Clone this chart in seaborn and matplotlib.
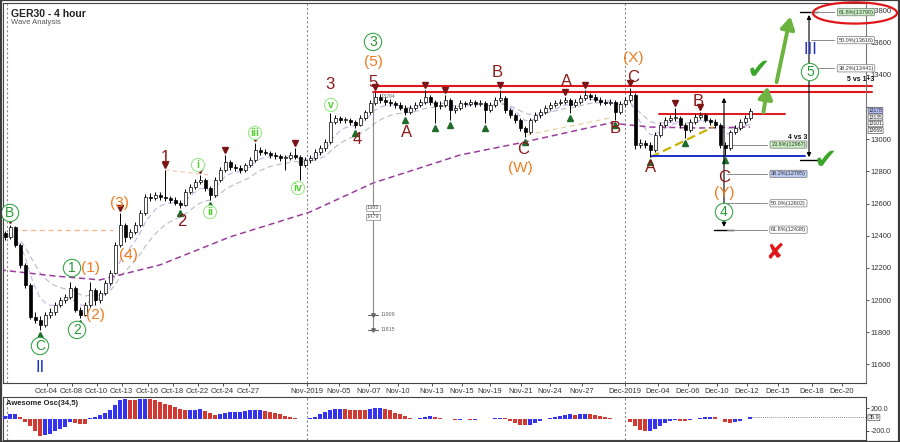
import numpy as np
import pandas as pd
import matplotlib
matplotlib.use("Agg")
import matplotlib.pyplot as plt
import matplotlib.transforms as mtransforms
from matplotlib.patches import Ellipse, Rectangle
import seaborn as sns

# ---------------- data ----------------
first_open = 12420
closes = [12393, 12455, 12343, 12219, 12095, 11896, 11877, 11846, 11908, 11927,
          11970, 12001, 12020, 12076, 11939, 11908, 11970, 12064, 12001, 12045,
          12107, 12169, 12343, 12467, 12393, 12424, 12467, 12542, 12641, 12635,
          12654, 12641, 12635, 12623, 12604, 12592, 12672, 12704, 12735, 12747,
          12697, 12654, 12747, 12809, 12859, 12828, 12822, 12809, 12840, 12871,
          12934, 12921, 12915, 12902, 12896, 12884, 12884, 12902, 12890, 12840,
          12871, 12884, 12921, 12946, 12983, 13108, 13132, 13120, 13120, 13108,
          13089, 13132, 13170, 13226, 13263, 13244, 13232, 13226, 13213, 13195,
          13170, 13195, 13213, 13232, 13263, 13232, 13207, 13213, 13244, 13182,
          13195, 13226, 13219, 13232, 13219, 13226, 13182, 13213, 13244, 13257,
          13182, 13151, 13120, 13070, 13045, 13120, 13151, 13170, 13195, 13213,
          13226, 13232, 13244, 13213, 13232, 13257, 13275, 13263, 13244, 13232,
          13226, 13232, 13170, 13219, 13244, 13275, 12965, 12977, 12965, 12934,
          13027, 13089, 13120, 13132, 13132, 13089, 13058, 13108, 13139, 13151,
          13120, 13108, 13089, 12965, 12946, 13045, 13070, 13108, 13132, 13178]
highs = [12430, 12467, 12460, 12355, 12230, 12105, 11925, 11900, 11925, 11950,
         11990, 12020, 12040, 12113, 12090, 11960, 11990, 12113, 12075, 12060,
         12125, 12185, 12360, 12542, 12480, 12445, 12485, 12560, 12660, 12665,
         12675, 12670, 12809, 12650, 12640, 12625, 12690, 12720, 12755, 12778,
         12760, 12710, 12765, 12830, 12902, 12870, 12845, 12840, 12855, 12890,
         12977, 12950, 12940, 12930, 12920, 12910, 12905, 12920, 12946, 12900,
         12890, 12900, 12940, 12965, 13000, 13163, 13150, 13145, 13140, 13135,
         13120, 13150, 13185, 13245, 13294, 13280, 13260, 13250, 13240, 13230,
         13210, 13210, 13230, 13250, 13306, 13275, 13245, 13235, 13275, 13255,
         13215, 13245, 13240, 13250, 13245, 13245, 13240, 13230, 13260, 13306,
         13270, 13195, 13165, 13135, 13085, 13135, 13170, 13190, 13210, 13230,
         13245, 13250, 13263, 13255, 13250, 13275, 13306, 13290, 13280, 13260,
         13250, 13250, 13245, 13235, 13260, 13319, 13285, 13000, 12995, 12985,
         13045, 13105, 13140, 13150, 13195, 13145, 13100, 13125, 13155, 13170,
         13165, 13135, 13125, 13100, 12980, 13060, 13090, 13125, 13150, 13195]
lows = [12375, 12380, 12330, 12200, 12075, 11880, 11855, 11815, 11830, 11890,
        11910, 11955, 11985, 12005, 11925, 11890, 11900, 11960, 11970, 11985,
        12030, 12095, 12160, 12330, 12362, 12380, 12410, 12455, 12530, 12615,
        12620, 12625, 12615, 12605, 12590, 12573, 12585, 12660, 12690, 12720,
        12680, 12623, 12640, 12735, 12795, 12810, 12800, 12790, 12795, 12825,
        12860, 12905, 12900, 12885, 12880, 12865, 12809, 12870, 12875, 12747,
        12825, 12855, 12870, 12905, 12930, 12970, 13095, 13100, 13100, 13090,
        13070, 13080, 13120, 13160, 13210, 13225, 13215, 13205, 13195, 13180,
        13151, 13160, 13180, 13200, 13220, 13215, 13101, 13190, 13200, 13120,
        13165, 13180, 13200, 13205, 13200, 13205, 13101, 13170, 13200, 13230,
        13165, 13130, 13100, 13050, 13014, 13030, 13105, 13135, 13155, 13180,
        13200, 13210, 13220, 13163, 13200, 13220, 13245, 13245, 13230, 13215,
        13210, 13210, 13120, 13160, 13205, 13230, 12940, 12945, 12945, 12890,
        12920, 13015, 13075, 13105, 13115, 13070, 13008, 13045, 13095, 13125,
        13105, 13090, 13070, 12945, 12902, 12935, 13030, 13055, 13095, 13120]

ao_values = [60, 90, 100, 40, -40, -120, -200, -290, -280, -250,
             -210, -170, -130, -50, -60, -75, -85, 20, 50, 80,
             110, 160, 250, 350, 365, 350, 340, 360, 370, 360,
             340, 310, 280, 250, 220, 190, 160, 170, 175, 180,
             150, 110, 80, 90, 110, 130, 135, 140, 150, 160,
             165, 170, 150, 130, 110, 90, 70, 50, 30, 10,
             0, 20, 50, 90, 130, 160, 185, 190, 180, 175,
             170, 165, 160, 185, 200, 210, 190, 160, 120, 90,
             60, 30, 10, 30, 50, 60, 40, 20, 10, 0,
             -10, -5, 0, -10, -5, 5, 0, 10, 25, 30,
             20, -30, -60, -90, -100, -90, -60, -30, 0, 30,
             50, 70, 80, 90, 85, 95, 100, 95, 75, 55,
             40, 25, 15, 5, 0, -40, -110, -180, -210, -200,
             -170, -120, -70, -30, -10, -20, -30, -15, 0, 20,
             40, 50, 40, 0, -40, -70, -50, -20, 10, 36]

ma_long_bar = [-1, 10, 19, 31, 45, 61, 73.6, 91, 103, 121, 129, 139, 149]
ma_long_val = [12188, 12150, 12126, 12219, 12393, 12548, 12728, 12902, 12977,
               13101, 13076, 13070, 13076]

date_pos = [8.3, 13.3, 18.3, 23.3, 28.5, 33.5, 38.5, 43.5, 48.7, 60.3, 66.7, 72.7,
            78.5, 85.3, 91.3, 97, 103.1, 109, 115.3, 124, 130.5, 136.5, 142.3,
            148.3, 154.5, 161.3, 167.3]
date_labels = ["Oct-04", "Oct-08", "Oct-10", "Oct-13", "Oct-16", "Oct-18", "Oct-22",
               "Oct-24", "Oct-27", "Nov-2019", "Nov-05", "Nov-07", "Nov-10", "Nov-13",
               "Nov-15", "Nov-19", "Nov-21", "Nov-24", "Nov-27", "Dec-2019", "Dec-04",
               "Dec-06", "Dec-10", "Dec-12", "Dec-15", "Dec-18", "Dec-20"]
price_ticks = [11600, 11800, 12000, 12200, 12400, 12600, 12800, 13000, 13200,
               13400, 13600, 13800]
price_tick_labels = ["11600", "11800", "12000", "12200", "12400", "12600", "12800",
                     "13000", "", "13400", "13600", "13800"]
separators = [0.4, 60.3, 124]

peak_bars = [1, 23, 32, 39, 44, 50, 58, 65, 74, 84, 88, 99, 112, 116, 125, 134, 139]
low_bars = [7, 15, 35, 41, 59, 70, 80, 86, 89, 96, 104, 113, 122, 129, 136, 144]

# wave labels: (bar, price, text)
green_circled = [(1, 12542, "B"), (7, 11715, "C"), (13.4, 12200, "1"), (14.4, 11815, "2"),
                 (73.6, 13605, "3"), (143.8, 12548, "4"), (161, 13418, "5")]
roman_circled = [(38.6, 12840, "i"), (41, 12548, "ii"), (50, 13039, "iii"),
                 (58.6, 12697, "iv"), (65.2, 13213, "v")]
maroon_labels = [(32, 12884, "1"), (35.4, 12486, "2"), (65, 13338, "3"), (70.4, 12996, "4"),
                 (73.6, 13350, "5"), (80.4, 13045, "A"), (98.4, 13412, "B"),
                 (103.6, 12934, "C"), (112.4, 13362, "A"), (122, 13070, "B"),
                 (125.6, 13387, "C"), (129.2, 12822, "A"), (138.6, 13232, "B"),
                 (143.8, 12760, "C")]
orange_labels = [(17, 12200, "(1)"), (18, 11908, "(2)"), (22.8, 12604, "(3)"),
                 (24.6, 12281, "(4)"), (73.6, 13480, "(5)"), (103, 12822, "(W)"),
                 (125.6, 13505, "(X)"), (143.8, 12666, "(Y)")]
blue_labels = [(7, 11579, "II"), (161, 13555, "III")]

resistance_levels = [13331, 13294]
mini_resistance = 13160
support_level = 12896
fib_left = [(12967, "23.6%(12967)", "#c9efc0"), (12785, "38.2%(12785)", "#bccaf2"),
            (12602, "50.0%(12602)", "white"), (12438, "61.8%(12438)", "white")]
fib_right = [(13790, "61.8%(13790)", "#c9efc0"), (13616, "50.0%(13616)", "white"),
             (13441, "38.2%(13441)", "white")]
axis_tags = [(13180, "13178", "#b8bfff"), (13138, "13135", "white"),
             (13096, "13101", "white"), (13054, "13069", "white")]

# ---------------- style ----------------
sns.set_theme(style="white")
plt.rcParams["font.family"] = ["Liberation Sans", "DejaVu Sans"]

fig = plt.figure(figsize=(9.0, 4.42), dpi=100)
fig.patch.set_facecolor("white")
ax = fig.add_axes([3 / 900, 1 - 383 / 442, 863 / 900, 380 / 442])
axo = fig.add_axes([3 / 900, 2 / 442, 863 / 900, 43 / 442])

n = len(closes)
x = np.arange(n)
opens = np.array([first_open] + closes[:-1], dtype=float)
c = np.array(closes, dtype=float)
hi = np.maximum(np.array(highs, dtype=float), np.maximum(opens, c))
lo = np.minimum(np.array(lows, dtype=float), np.minimum(opens, c))

XMIN, XMAX = -0.4, 172.2
YMIN, YMAX = 11485, 13847

# moving averages
df = pd.DataFrame({"bar": x, "close": c})
df["ema_fast"] = df["close"].ewm(span=6, adjust=False).mean()
df["ema_slow"] = df["close"].ewm(span=14, adjust=False).mean()
sns.lineplot(data=df, x="bar", y="ema_fast", ax=ax, color="#c9b3e4", lw=0.8,
             linestyle=(0, (5, 3)), zorder=1)
sns.lineplot(data=df, x="bar", y="ema_slow", ax=ax, color="#b9bccb", lw=0.8,
             linestyle=(0, (5, 3)), zorder=1)
ma_df = pd.DataFrame({"bar": ma_long_bar, "ma": ma_long_val})
sns.lineplot(data=ma_df, x="bar", y="ma", ax=ax, color="#9a3d9c", lw=1.1,
             linestyle=(0, (4, 2.5)), zorder=1)

# period separators
for s in separators:
    for a in (ax, axo):
        a.axvline(s, color="#8a8a8a", lw=0.8, linestyle=(0, (2, 2)), zorder=0)

# helper dashed lines
ax.plot([1.6, 21.6], [12436, 12436], color="#f2b48a", lw=0.9, linestyle=(0, (4, 3)), zorder=1)
ax.plot([32, 41], [12809, 12778], color="#f5c2b0", lw=0.8, linestyle=(0, (4, 3)), zorder=1)
ax.plot([104.4, 121], [13027, 13132], color="#e9d3a3", lw=0.9, linestyle=(0, (4, 3)), zorder=1)
ax.plot([129.2, 141.6], [12890, 13076], color="#c9b400", lw=1.6, linestyle=(0, (4, 2)), zorder=2)

# candles
ax.vlines(x, lo, hi, color="black", lw=0.7, zorder=3)
up = c >= opens
body_h = np.maximum(np.abs(c - opens), 5)
body_b = np.minimum(c, opens)
ax.bar(x[up], body_h[up], bottom=body_b[up], width=0.6, color="white",
       edgecolor="black", linewidth=0.5, zorder=4)
ax.bar(x[~up], body_h[~up], bottom=body_b[~up], width=0.6, color="black",
       edgecolor="black", linewidth=0.5, zorder=4)

# pivot markers
up_off = mtransforms.offset_copy(ax.transData, fig=fig, y=3.5, units="points")
dn_off = mtransforms.offset_copy(ax.transData, fig=fig, y=-3.5, units="points")
ax.plot(peak_bars, hi[peak_bars], linestyle="none", marker="v", ms=4,
        color="#7a1414", transform=up_off, zorder=5)
ax.plot(low_bars, lo[low_bars], linestyle="none", marker="^", ms=4,
        color="#1f6b2a", transform=dn_off, zorder=5)

# resistance / support lines
for lvl in resistance_levels:
    ax.plot([73.6, XMAX + 1.2], [lvl, lvl], color="#e0161a", lw=1.5, zorder=2, clip_on=False)
ax.plot([130.8, 156], [mini_resistance, mini_resistance], color="#e0161a", lw=1.4, zorder=2)
ax.plot([129.2, 160], [support_level, support_level], color="#1b2fc9", lw=1.4, zorder=2)

# measuring line from wave 5 peak
ax.plot([73.6, 73.6], [13294, 11815], color="#8c8c8c", lw=0.8, zorder=2)
ax.text(75.2, 13257, "13294", fontsize=3.8, color="#666666", zorder=6)
for p, t in [(12573, "1385"), (12517, "1479")]:
    ax.text(73.6, p, t, fontsize=4, ha="center", va="center", color="#555555",
            bbox=dict(boxstyle="square,pad=0.15", fc="white", ec="#888888", lw=0.5), zorder=6)
for p, t in [(11909, "11909"), (11815, "11815")]:
    ax.plot([72.6, 74.6], [p, p], color="#666666", lw=0.8)
    ax.plot([73.6], [p], marker="v", ms=2.5, color="#666666")
    ax.text(75.2, p, t, fontsize=3.8, color="#666666", va="center")

# vertical measures with fib targets
ax.annotate("", xy=(143.8, 13275), xytext=(143.8, 12438),
            arrowprops=dict(arrowstyle="<|-|>", color="black", lw=0.8, mutation_scale=6), zorder=6)
ax.plot([141.8, 145.8], [12438, 12438], color="black", lw=1.0)
for p, t, fc in fib_left:
    ax.plot([144.3, 152.3], [p, p], color="#8a8a8a", lw=0.7, zorder=2)
    ax.text(156.7, p, t, fontsize=4, ha="center", va="center", color="#333333",
            bbox=dict(boxstyle="round,pad=0.2", fc=fc, ec="#777777", lw=0.5), zorder=6)
ax.text(158.5, 13014, "4 vs 3", fontsize=5, fontweight="bold", ha="center", va="center",
        color="#111111")

ax.annotate("", xy=(160.8, 13790), xytext=(160.8, 12871),
            arrowprops=dict(arrowstyle="<|-|>", color="black", lw=0.8, mutation_scale=6), zorder=6)
ax.plot([159.0, 162.6], [13790, 13790], color="black", lw=1.0)
ax.plot([159.0, 162.6], [12871, 12871], color="black", lw=1.0)
for p, t, fc in fib_right:
    ax.plot([161.2, 165.8], [p, p], color="#8a8a8a", lw=0.7, zorder=2)
    ax.text(170.2, p, t, fontsize=4, ha="center", va="center", color="#333333",
            bbox=dict(boxstyle="round,pad=0.2", fc=fc, ec="#777777", lw=0.5),
            zorder=6, clip_on=False)
ax.text(171.2, 13369, "5 vs 1+3", fontsize=5, fontweight="bold", ha="center", va="center",
        color="#111111", clip_on=False)
ax.add_patch(Ellipse((170.0, 13785), width=16.8, height=132, fill=False, ec="#e0161a",
                     lw=1.6, zorder=7, clip_on=False))

# green arrows, check marks, cross
for (x0, y0, x1, y1) in [(151.6, 13151, 152.6, 13345), (154.2, 13338, 157.2, 13780)]:
    ax.annotate("", xy=(x1, y1), xytext=(x0, y0),
                arrowprops=dict(arrowstyle="-|>,head_width=0.35,head_length=0.6",
                                color="#6cb33f", lw=2.8, mutation_scale=12), zorder=7)
ax.text(150.6, 13431, "\u2714", fontsize=20, color="#3aa62a", ha="center", va="center",
        family=["DejaVu Sans"], zorder=7)
ax.text(164.0, 12871, "\u2714", fontsize=20, color="#3aa62a", ha="center", va="center",
        family=["DejaVu Sans"], zorder=7)
ax.text(154.0, 12294, "\u2718", fontsize=16, color="#e0161a", ha="center", va="center",
        family=["DejaVu Sans"], zorder=7)

# wave labels
for bx, p, t in green_circled:
    ax.text(bx, p, t, fontsize=10, color="#2a9a34", ha="center", va="center", zorder=8,
            bbox=dict(boxstyle="circle,pad=0.12", fc="white", ec="#3aa64a", lw=0.8))
for bx, p, t in roman_circled:
    ax.text(bx, p, t, fontsize=7.5, color="#4fd12a", ha="center", va="center", zorder=8,
            fontweight="bold",
            bbox=dict(boxstyle="circle,pad=0.15", fc="white", ec="#9ae88a", lw=0.8))
for bx, p, t in maroon_labels:
    ax.text(bx, p, t, fontsize=12, color="#8b1a1a", ha="center", va="center", zorder=8)
for bx, p, t in orange_labels:
    ax.text(bx, p, t, fontsize=11, color="#f07a1e", ha="center", va="center", zorder=8)
for bx, p, t in blue_labels:
    ax.text(bx, p, t, fontsize=12, color="#1f2fd0", ha="center", va="center", zorder=8)

# title
ax.text(0.009, 0.985, "GER30 - 4 hour", transform=ax.transAxes, fontsize=7.5,
        fontweight="bold", color="#222222", va="top", ha="left")
ax.text(0.009, 0.958, "Wave Analysis", transform=ax.transAxes, fontsize=5.5,
        color="#555555", va="top", ha="left")

# axes formatting (main)
ax.set_xlim(XMIN, XMAX)
ax.set_ylim(YMIN, YMAX)
ax.set_xlabel("")
ax.set_ylabel("")
ax.yaxis.tick_right()
ax.set_yticks(price_ticks)
ax.set_yticklabels(price_tick_labels)
ax.set_xticks(date_pos)
ax.set_xticklabels(date_labels)
ax.tick_params(axis="y", labelsize=5.5, colors="#333333", length=2, width=0.6, pad=1.5,
               direction="out", right=True)
ax.tick_params(axis="x", labelsize=5.5, colors="#333333", length=2, width=0.6, pad=1.5,
               direction="out", bottom=True)
for side in ["left", "top", "bottom"]:
    ax.spines[side].set_color("#444444")
    ax.spines[side].set_linewidth(0.8)
ax.spines["right"].set_color("#777777")
ax.spines["right"].set_linewidth(0.8)
ax.spines["right"].set_linestyle((0, (1, 1)))

ytrans = mtransforms.blended_transform_factory(ax.transAxes, ax.transData)
for p, t, fc in axis_tags:
    ax.text(1.003, p, t, transform=ytrans, fontsize=3.6, va="center", ha="left",
            color="#222222", clip_on=False, zorder=9,
            bbox=dict(boxstyle="round,pad=0.1", fc=fc, ec="#555555", lw=0.5))

# ---------------- oscillator ----------------
ao = np.array(ao_values, dtype=float)
ao_prev = np.concatenate([[ao[0] - 1], ao[:-1]])
ao_colors = np.where(ao >= ao_prev, "#3434f0", "#d13a32")
axo.bar(x, ao, width=0.8, color=ao_colors, edgecolor="none", zorder=3)
axo.plot([n - 1, XMAX], [ao[-1], ao[-1]], color="#666666", lw=0.6,
         linestyle=(0, (1, 1.5)), zorder=2)
axo.set_xlim(XMIN, XMAX)
axo.set_ylim(-365, 400)
axo.yaxis.tick_right()
axo.set_yticks([200, -200])
axo.set_yticklabels(["200.0", "-200.0"])
axo.set_xticks([])
axo.tick_params(axis="y", labelsize=5, colors="#333333", length=2, width=0.6, pad=1.5,
                direction="out", right=True)
for side in ["left", "top", "bottom", "right"]:
    axo.spines[side].set_color("#444444")
    axo.spines[side].set_linewidth(0.8)
axo.text(0.004, 0.92, "Awesome Osc(34,5)", transform=axo.transAxes, fontsize=5.5,
         fontweight="bold", color="#222222", va="top", ha="left")
otrans = mtransforms.blended_transform_factory(axo.transAxes, axo.transData)
axo.text(1.003, ao[-1], "35.9", transform=otrans, fontsize=4, va="center", ha="left",
         color="#222222", clip_on=False,
         bbox=dict(boxstyle="round,pad=0.12", fc="white", ec="#555555", lw=0.5))

# outer frame
fig.add_artist(Rectangle((0.001, 0.001), 0.998, 0.998, transform=fig.transFigure,
                         fill=False, ec="#3c3c3c", lw=1.6))

fig.savefig("out.png", dpi=100)
